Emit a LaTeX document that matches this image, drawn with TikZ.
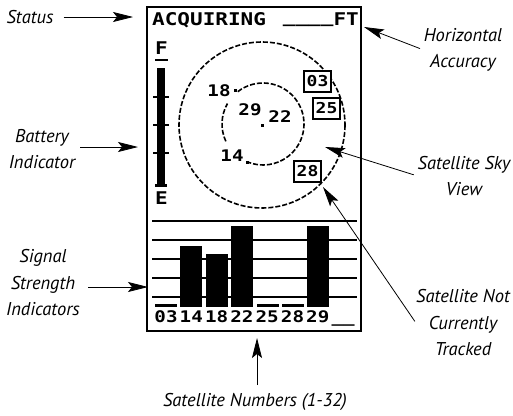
\documentclass[tikz,border=0pt]{standalone}
\usepackage{fontspec}
\newfontfamily\lcdfont[FakeStretch=1.2]{DejaVu Sans Mono Bold}
\newfontfamily\callfont{PT Sans}
\usetikzlibrary{arrows.meta, positioning}

\tikzset{
  lbl/.style={inner sep=0pt, align=center, font=\callfont\fontsize{18.5}{26.5}\selectfont\itshape},
  callout/.style={->, line width=0.8pt},
  lcd/.style={inner sep=0pt, font=\lcdfont\fontsize{17.5}{18}\selectfont},
  lcdnum/.style={inner sep=0pt, anchor=base, font=\lcdfont\fontsize{16}{17}\selectfont},
  skyring/.style={line width=1.6pt, dash pattern=on 5pt off 2pt},
  satbox/.style={draw, fill=white, line width=2pt, inner sep=0pt,
                 minimum width=27pt, minimum height=21pt, font=\lcdfont\fontsize{15}{16}\selectfont},
  gridline/.style={line width=2.5pt}
}

\begin{document}
\begin{tikzpicture}[x=1pt, y=-1pt, >={Stealth[length=20pt, width=10pt, inset=4pt]}]
  \useasboundingbox (0,0) rectangle (513,415);

  % screen frame
  \draw[line width=2pt] (147,7) rectangle (361,331);

  % status line
  \node[lcd, anchor=base west] (status) at (152,25) {ACQUIRING};
  \node[lcd, anchor=base east] (accuracy) at (359,25) {\raisebox{2.5pt}{\_\_\_\_}FT};

  % battery gauge
  \node[lcd] (full) at (161.5,48.5) {F};
  \fill (155,59) rectangle (168,61);
  \fill (157,68) rectangle (165,187);
  \fill (155,184) rectangle (167,187);
  \foreach \ty in {97,125,153}
    \fill (153,{\ty-1}) rectangle (169,{\ty+1});
  \node[lcd] (empty) at (161.5,198) {E};

  % sky view
  \draw[skyring] (262,125) circle[radius=83];
  \draw[skyring] (263,124) ++(-128:41) arc[start angle=-128, end angle=112, radius=41];
  \draw[skyring] (263,124) ++(-205:41) arc[start angle=-205, end angle=-150, radius=41];
  \node[lcdnum, anchor=center] (sat18) at (219,91) {18};
  \node[lcdnum, anchor=center] (sat14) at (232,156) {14};
  \node[lcdnum, anchor=center] (sat29) at (250,110) {29};
  \node[lcdnum, anchor=center] (sat22) at (280,117) {22};
  \fill (233.5,89) rectangle (236.5,92);
  \fill (245.5,160.5) rectangle (248.5,163.5);
  \fill (260.5,123.5) rectangle (263.5,126.5);
  \node[satbox] (box03) at (317.5,81.5) {03};
  \node[satbox] (box25) at (326.5,108) {25};
  \node[satbox] (box28) at (307.5,171) {28};

  % signal strength bars
  \foreach \ly in {221,240,259,278,297}
    \draw[gridline] (152,\ly) -- (357,\ly);
  \foreach \cx/\top in {191/246, 217/254, 242/226, 317.5/226}
    \fill ({\cx-11},\top) rectangle ({\cx+11},307);
  \foreach \cx in {166,267.5,292.5}
    \fill ({\cx-11},304) rectangle ({\cx+11},306.5);
  \foreach \num [count=\i from 0] in {03,14,18,22,25,28,29,\_\_}
    \node[lcdnum] (num\i) at ({166+25.3*\i},322.5) {\num};

  % callout labels
  \node[lbl] (lblStatus) at (30,17) {Status};
  \node[lbl] (lblHacc) at (463,50) {Horizontal\\Accuracy};
  \node[lbl] (lblBatt) at (42,149) {Battery\\Indicator};
  \node[lbl] (lblSky) at (464,176) {Satellite Sky\\View};
  \node[lbl] (lblSignal) at (43,283) {Signal\\Strength\\Indicators};
  \node[lbl] (lblNotTr) at (463,323) {Satellite Not\\Currently\\Tracked};
  \node[lbl] (lblNums) at (255,402) {Satellite Numbers (1-32)};

  \coordinate (tipStatus) at (133,17);
  \coordinate (tipHacc) at (364,27);
  \coordinate (tipBatt) at (138,147);
  \coordinate (tipSky) at (325,147);
  \coordinate (tipSignal) at (148,287);
  \coordinate (tipNotTr) at (323,187);
  \coordinate (tipNums) at (257,338);

  \draw[callout, shorten <=10pt] (lblStatus.east) -- (tipStatus);
  \draw[callout, shorten <=4pt] (lblHacc.west) -- (tipHacc);
  \draw[callout, shorten <=5pt] (lblBatt.east |- tipBatt) -- (tipBatt);
  \draw[callout, shorten <=4pt] (lblSky.west) -- (tipSky);
  \draw[callout, shorten <=8pt] (lblSignal.east |- tipSignal) -- (tipSignal);
  \draw[callout, shorten <=2pt] (lblNotTr.west) -- (tipNotTr);
  \draw[callout, shorten <=8pt] (lblNums.north -| tipNums) -- (tipNums);
\end{tikzpicture}
\end{document}
